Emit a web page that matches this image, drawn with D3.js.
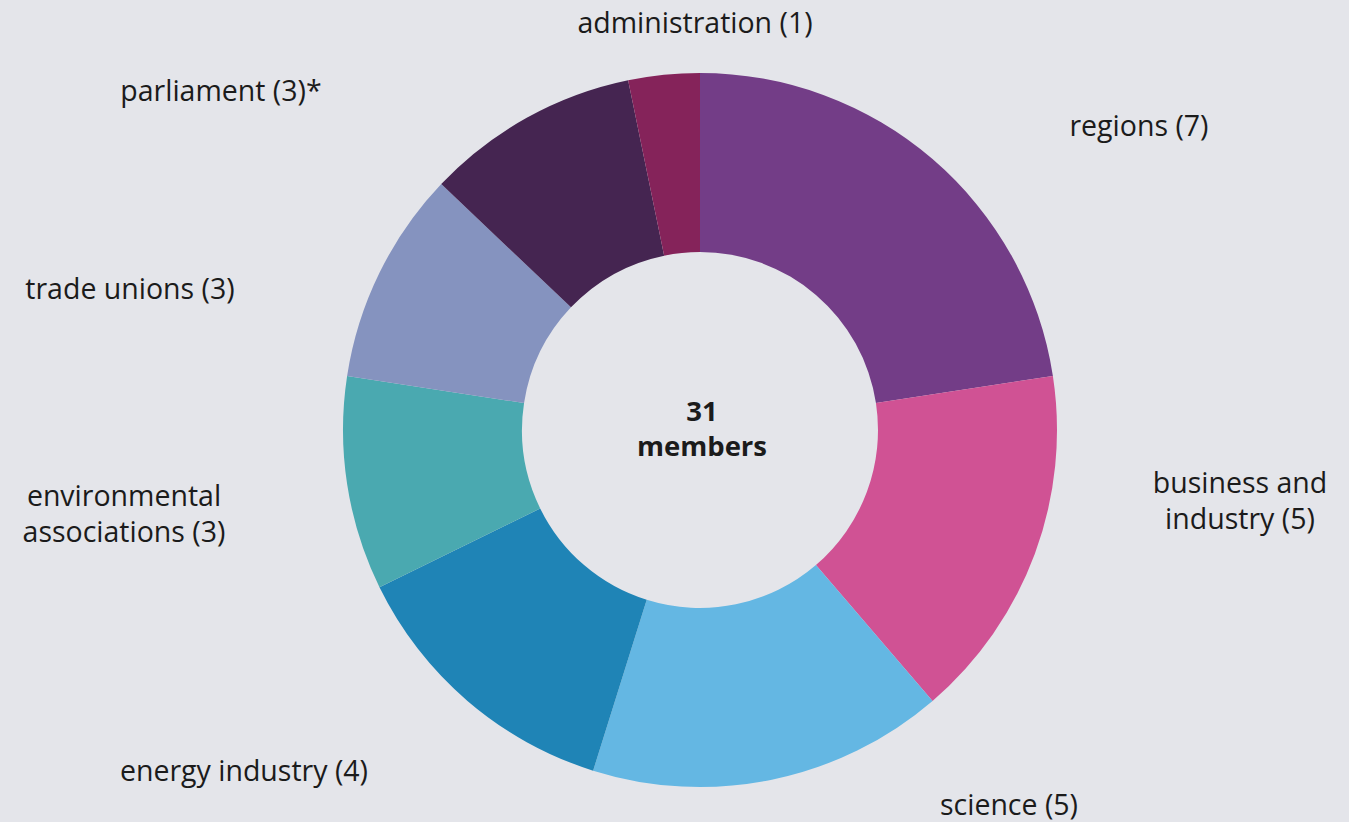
<!DOCTYPE html>
<html>
<head>
<meta charset="utf-8">
<title>31 members</title>
<script src="https://cdn.jsdelivr.net/npm/d3@7"></script>
<style>
  html, body { margin: 0; padding: 0; background: #e4e5ea; }
  svg { display: block; }
  text { font-family: "Open Sans", "Noto Sans", sans-serif; fill: #1b1b1b; }
</style>
</head>
<body>
<script>
// categories and member counts, clockwise from 12 o'clock
var categories = ["regions", "business and industry", "science", "energy industry",
                  "environmental associations", "trade unions", "parliament", "administration"];
var members = [7, 5, 5, 4, 3, 3, 3, 1];
var labels = [["regions (7)"], ["business and", "industry (5)"], ["science (5)"], ["energy industry (4)"],
              ["environmental", "associations (3)"], ["trade unions (3)"], ["parliament (3)*"], ["administration (1)"]];
var colors = ["#733d87", "#d05294", "#64b7e3", "#1f84b6", "#4aa9b0", "#8593bf", "#452551", "#85235a"];

// where each label sits (center of the text block, first baseline)
var labelAt = [[1139, 136], [1240, 493], [1009, 815], [244, 781],
               [124, 506], [130, 299], [221, 101], [695, 33]];

var width = 1349, height = 822;
var cx = 700, cy = 430, rOuter = 357, rInner = 178;

var svg = d3.select("body").append("svg")
    .attr("width", width)
    .attr("height", height);

var g = svg.append("g").attr("transform", "translate(" + cx + "," + cy + ")");

var pie = d3.pie().sort(null).value(function(d) { return d; });
var arc = d3.arc().innerRadius(rInner).outerRadius(rOuter);

g.selectAll("path")
    .data(pie(members))
    .enter()
    .append("path")
    .attr("d", arc)
    .attr("fill", function(d, i) { return colors[i]; });

// labels
svg.selectAll("text.lbl")
    .data(labels)
    .enter()
    .append("text")
    .attr("class", "lbl")
    .attr("text-anchor", "middle")
    .attr("font-size", 28.5)
    .attr("x", function(d, i) { return labelAt[i][0]; })
    .attr("y", function(d, i) { return labelAt[i][1]; })
    .each(function(d, i) {
        var t = d3.select(this);
        d.forEach(function(line, j) {
            t.append("tspan")
                .attr("x", labelAt[i][0])
                .attr("dy", j === 0 ? 0 : 36)
                .text(line);
        });
    });

// center
var total = d3.sum(members);
var center = svg.append("text")
    .attr("text-anchor", "middle")
    .attr("font-size", 27.5)
    .attr("font-weight", "bold")
    .attr("x", cx + 2)
    .attr("y", 421);
center.append("tspan").attr("x", cx + 2).attr("dy", 0).text(total);
center.append("tspan").attr("x", cx + 2).attr("dy", 35).text("members");
</script>
</body>
</html>
